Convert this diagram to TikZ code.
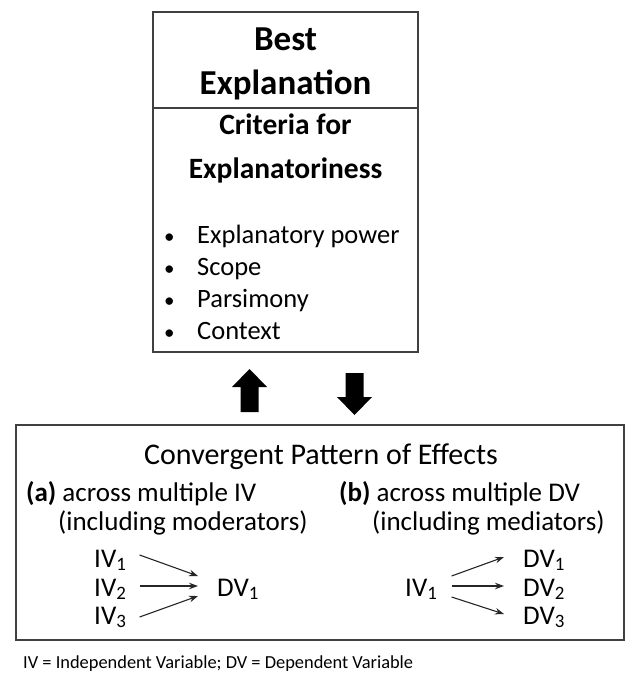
\documentclass[tikz,border=0pt]{standalone}
\usepackage{fontspec}
\setmainfont{Carlito}
\usetikzlibrary{arrows.meta,calc}
\tikzset{
  boxline/.style={draw=black!75, line width=1.5pt},
  big/.style={font=\bfseries\fontsize{35}{38}\selectfont, anchor=base, inner sep=0pt},
  sub/.style={font=\bfseries\fontsize{29.5}{32}\selectfont, anchor=base, inner sep=0pt},
  item/.style={font=\fontsize{26.5}{29}\selectfont, anchor=base west, inner sep=0pt},
  bul/.style={font=\fontsize{21}{23}\selectfont, anchor=base west, inner sep=0pt},
  lbl/.style={font=\fontsize{27}{29}\selectfont, anchor=base west, inner sep=0pt},
  var/.style={font=\fontsize{27}{29}\selectfont, anchor=base west, inner sep=0pt},
  thin/.style={draw=black!85, line width=1.1pt, -{Stealth[length=9pt,width=6.5pt]}},
  block/.style={fill=black, draw=none}
}
\newcommand{\sbs}[1]{\textsubscript{#1}}
\begin{document}
\begin{tikzpicture}[x=1pt,y=-1pt]
\useasboundingbox (0,0) rectangle (626,685);
% top box
\node[boxline, minimum width=265pt, minimum height=340pt, inner sep=0pt] (topbox) at (285.5,182) {};
\coordinate (dl) at (153,108);
\coordinate (dr) at (418,108);
\draw[boxline] (dl) -- (dr);
\node[big] (best) at (285.5,51) {Best};
\node[big] (expl) at (285.5,94) {Explanation};
\node[sub] (crit) at (285.5,134) {Criteria for};
\node[sub] (critb) at (285.5,178) {Explanatoriness};
\foreach \t/\y/\n in {Explanatory power/243/i1, Scope/275/i2, Parsimony/307/i3, Context/339/i4}{
  \node[bul] (b\n) at (164,\y) {•};
  \node[item] (\n) at (197,\y) {\t};
}
% block arrows
\fill[block] (249.5,369) -- (267,387) -- (258.5,387) -- (258.5,412) -- (240.5,412) -- (240.5,387) -- (232,387) -- cycle;
\fill[block] (354.5,415) -- (372,397) -- (363.5,397) -- (363.5,373) -- (345.5,373) -- (345.5,397) -- (337,397) -- cycle;
% bottom box
\node[boxline, minimum width=608pt, minimum height=215pt, inner sep=0pt] (botbox) at (320,532.5) {};
\node[font=\fontsize{30}{32}\selectfont, anchor=base, inner sep=0pt] (conv) at (321,464) {Convergent Pattern of Effects};
\node[lbl] (la) at (26,501) {\textbf{(a)} across multiple IV};
\node[lbl] (la2) at (58,530) {(including moderators)};
\node[lbl] (lb) at (339,501) {\textbf{(b)} across multiple DV};
\node[lbl] (lb2) at (372,530) {(including mediators)};
% left diagram
\node[var] (iva1) at (94,567) {IV\sbs{1}};
\node[var] (iva2) at (94,596) {IV\sbs{2}};
\node[var] (iva3) at (94,624) {IV\sbs{3}};
\node[var] (dva1) at (217,596) {DV\sbs{1}};
\draw[thin] ([xshift=13pt,yshift=12pt]iva1.base east) -- ([xshift=-19pt,yshift=20pt]dva1.base west);
\draw[thin] ([xshift=13pt,yshift=10pt]iva2.base east) -- ([xshift=-19pt,yshift=10pt]dva1.base west);
\draw[thin] ([xshift=13pt,yshift=7pt]iva3.base east) -- ([xshift=-19pt,yshift=0pt]dva1.base west);
% right diagram
\node[var] (ivb1) at (405,596) {IV\sbs{1}};
\node[var] (dvb1) at (523,567) {DV\sbs{1}};
\node[var] (dvb2) at (523,596) {DV\sbs{2}};
\node[var] (dvb3) at (523,624) {DV\sbs{3}};
\draw[thin] ([xshift=14pt,yshift=20pt]ivb1.base east) -- ([xshift=-19pt,yshift=10pt]dvb1.base west);
\draw[thin] ([xshift=14pt,yshift=10pt]ivb1.base east) -- ([xshift=-19pt,yshift=10pt]dvb2.base west);
\draw[thin] ([xshift=14pt,yshift=-1pt]ivb1.base east) -- ([xshift=-19pt,yshift=10pt]dvb3.base west);
% caption
\node[font=\fontsize{18.4}{20}\selectfont, anchor=base west, inner sep=0pt] (cap) at (23,668) {IV = Independent Variable; DV = Dependent Variable};
\end{tikzpicture}
\end{document}
